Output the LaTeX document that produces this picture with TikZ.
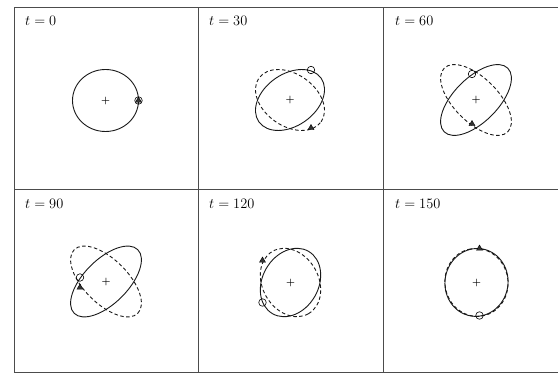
\documentclass[tikz,border=0pt]{standalone}
\usetikzlibrary{shapes.geometric,calc}
\tikzset{
  frm/.style={draw=black!70, line width=1pt},
  sol/.style={draw=black!90, line width=0.9pt},
  dsh/.style={draw=black!90, line width=0.9pt, dash pattern=on 3.5pt off 2.5pt},
  ctr/.style={inner sep=0pt, font=\normalsize\bfseries},
  pcir/.style={draw, circle, minimum size=7.5pt, inner sep=0pt, line width=0.6pt},
  ptri/.style={draw, fill=black!80, regular polygon, regular polygon sides=3, minimum size=7pt, inner sep=0pt, line width=0.4pt},
  lbl/.style={anchor=base west, inner sep=0pt, font=\fontsize{14}{16}\selectfont}}
\begin{document}
\begin{tikzpicture}[x=1pt, y=1pt]
\useasboundingbox (0,0) rectangle (558,375);
\clip (0,0) rectangle (558,375);
% grid
\draw[frm] (14,2) rectangle (568,367);
\draw[frm] (198,2) -- (198,367);
\draw[frm] (383,2) -- (383,367);
\draw[frm] (14,185) -- (568,185);
% t = 0
\node[lbl] (l1) at (25,349) {$t = 0$};
\node[ctr] (c1) at (105.5,274.5) {+};
\draw[sol] (c1) ellipse [x radius=33pt, y radius=31pt];
\node[pcir] (o1) at ($(c1)+(33,0)$) {};
\node[ptri] (a1) at ($(c1)+(33,0)$) {};
% t = 30
\node[lbl] (l2) at (209,349) {$t = 30$};
\node[ctr] (c2) at (290,275) {+};
\draw[dsh, rotate around={-35:(c2)}] (c2) ellipse [x radius=38pt, y radius=26pt];
\draw[sol, rotate around={35:(c2)}] (c2) ellipse [x radius=38pt, y radius=26pt];
\node[pcir] (o2) at ($(c2)+(21,30)$) {};
\node[ptri] (a2) at ($(c2)+(21,-28)$) {};
% t = 60
\node[lbl] (l3) at (395,349) {$t = 60$};
\node[ctr] (c3) at (476,275) {+};
\draw[dsh, rotate around={-45:(c3)}] (c3) ellipse [x radius=45pt, y radius=22pt];
\draw[sol, rotate around={45:(c3)}] (c3) ellipse [x radius=45pt, y radius=22pt];
\node[pcir] (o3) at ($(c3)+(-4,26)$) {};
\node[ptri] (a3) at ($(c3)+(-4,-24)$) {};
% t = 90
\node[lbl] (l4) at (25,166) {$t = 90$};
\node[ctr] (c4) at (106,93.5) {+};
\draw[dsh, rotate around={-45:(c4)}] (c4) ellipse [x radius=45pt, y radius=22pt];
\draw[sol, rotate around={45:(c4)}] (c4) ellipse [x radius=45pt, y radius=22pt];
\node[pcir] (o4) at ($(c4)+(-26,4)$) {};
\node[ptri] (a4) at ($(c4)+(-26,-6)$) {};
% t = 120
\node[lbl] (l5) at (209,166) {$t = 120$};
\node[ctr] (c5) at (290.5,92.5) {+};
\draw[dsh, rotate around={-60:(c5)}] (c5) ellipse [x radius=36pt, y radius=28pt];
\draw[sol, rotate around={60:(c5)}] (c5) ellipse [x radius=36pt, y radius=28pt];
\node[ptri] (a5) at ($(c5)+(-28,22)$) {};
\node[pcir] (o5) at ($(c5)+(-28,-20)$) {};
% t = 150
\node[lbl] (l6) at (395,166) {$t = 150$};
\node[ctr] (c6) at (476.5,92.5) {+};
\draw[dsh, rotate around={100:(c6)}] (c6) ellipse [x radius=34pt, y radius=31.5pt];
\draw[sol, rotate around={80:(c6)}] (c6) ellipse [x radius=34pt, y radius=31.5pt];
\node[ptri] (a6) at ($(c6)+(3,34)$) {};
\node[pcir] (o6) at ($(c6)+(3,-33)$) {};
\end{tikzpicture}
\end{document}
